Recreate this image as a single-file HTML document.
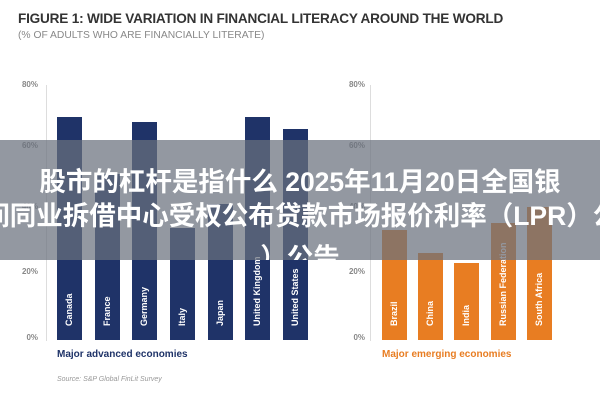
<!DOCTYPE html>
<html><head><meta charset="utf-8"><style>
body{margin:0;width:600px;height:400px;overflow:hidden;background:#fff;font-family:"Liberation Sans","Noto Sans CJK SC",sans-serif;position:relative}
.a{position:absolute}
.t{left:18px;top:11px;font-size:13.6px;font-weight:bold;color:#333;letter-spacing:-0.2px}
.s{left:18px;top:30px;font-size:10.3px;color:#888}
.y{font-size:8px;font-weight:bold;color:#888;width:24px;text-align:right}
.ax{width:1px;background:#ddd;top:85px;height:256px}
.b{bottom:60px;width:25px}
.n{background:#1f3368}.o{background:#e87d22}
.l{position:absolute;bottom:4px;left:50%;transform-origin:0 0;transform:rotate(-90deg);color:#fff;font-size:9px;font-weight:bold;white-space:nowrap;margin-left:-6px}
.band{left:0;top:140px;width:600px;height:120px;background:rgba(105,112,125,0.72);overflow:hidden}
.ln{position:absolute;left:-200px;width:1000px;text-align:center;color:#fff;font-weight:bold;font-size:26.5px;white-space:nowrap;line-height:32px}
</style></head><body>
<div class="a t">FIGURE 1: WIDE VARIATION IN FINANCIAL LITERACY AROUND THE WORLD</div>
<div class="a s">(% OF ADULTS WHO ARE FINANCIALLY LITERATE)</div>

<div class="a y" style="left:14px;top:80px">80%</div>
<div class="a y" style="left:14px;top:141px">60%</div>
<div class="a y" style="left:14px;top:202px">40%</div>
<div class="a y" style="left:14px;top:267px">20%</div>
<div class="a y" style="left:14px;top:333px">0%</div>
<div class="a y" style="left:341px;top:80px">80%</div>
<div class="a y" style="left:341px;top:141px">60%</div>
<div class="a y" style="left:341px;top:202px">40%</div>
<div class="a y" style="left:341px;top:267px">20%</div>
<div class="a y" style="left:341px;top:333px">0%</div>
<div class="a ax" style="left:46px"></div>
<div class="a ax" style="left:370px"></div>

<div class="a b n" style="left:57px;top:117px"><span class="l">Canada</span></div>
<div class="a b n" style="left:95px;top:174px"><span class="l">France</span></div>
<div class="a b n" style="left:132px;top:122px"><span class="l">Germany</span></div>
<div class="a b n" style="left:170px;top:228px"><span class="l">Italy</span></div>
<div class="a b n" style="left:208px;top:204px"><span class="l">Japan</span></div>
<div class="a b n" style="left:245px;top:117px"><span class="l">United Kingdom</span></div>
<div class="a b n" style="left:283px;top:129px"><span class="l">United States</span></div>

<div class="a b o" style="left:382px;top:230px"><span class="l">Brazil</span></div>
<div class="a b o" style="left:418px;top:253px"><span class="l">China</span></div>
<div class="a b o" style="left:454px;top:263px"><span class="l">India</span></div>
<div class="a b o" style="left:491px;top:223px"><span class="l">Russian Federation</span></div>
<div class="a b o" style="left:527px;top:207px"><span class="l">South Africa</span></div>

<div class="a" style="left:57px;top:349px;font-size:10px;font-weight:bold;color:#1f3368">Major advanced economies</div>
<div class="a" style="left:382px;top:349px;font-size:10px;font-weight:bold;color:#e87d22">Major emerging economies</div>
<div class="a" style="left:57px;top:376px;font-size:7px;font-style:italic;color:#999">Source: S&amp;P Global FinLit Survey</div>

<div class="a band">
<div class="ln" style="top:26px">股市的杠杆是指什么 2025年11月20日全国银</div>
<div class="ln" style="top:60px;left:-212px">行间同业拆借中心受权公布贷款市场报价利率（LPR）公</div>
<div class="ln" style="top:102px">）公告</div>
</div>
</body></html>
